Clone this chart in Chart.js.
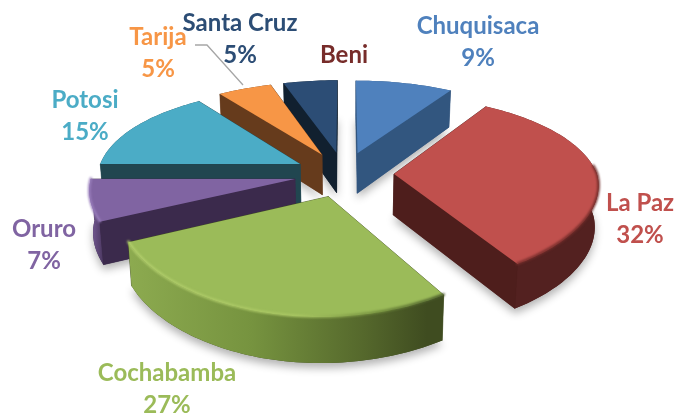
<!DOCTYPE html>
<html>
<head>
<meta charset="utf-8">
<style>html,body{margin:0;padding:0;background:#fff}canvas{display:block}</style>
<script src="https://cdn.jsdelivr.net/npm/chart.js@4/dist/chart.umd.min.js"></script>
</head>
<body>
<canvas id="c" width="676" height="415"></canvas>
<script>
const categories = ['Chuquisaca','La Paz','Cochabamba','Oruro','Potosi','Tarija','Santa Cruz','Beni'];
const values = [9,32,27,7,15,5,5,0];
const topColors = ['#4F81BD','#C0504D','#9BBB59','#8064A2','#4BACC6','#F79646','#2C4D75','#772C2A'];
const wallColors = ['#32567F','#4E1E1C','#3F4C20','#3B2A4C','#214650','#663B1C','#11202F','#3A1514'];
const labelColors = ['#4F81BD','#C0504D','#9BBB59','#8064A2','#4BACC6','#F79646','#2C4D75','#772C2A'];
const labelCentersX = [478,640,167,44,85,158,240,344];
const labelFirstLineY = [26,203,373,229,100,37,23,55];
const sliceSkew = [0,0,.03,0,0,0,0,0];

const PIE = {cx:344, cy:174, R:203, tiltY:.45, perspXNear:.10, perspXFar:.14, perspY:.17, depth:41, depthGrow:.1, shrink:.985, explode:50, lineGap:32};
const paintOrder = [6,5,0,4,3,1,2];

function project(px,d,z,skew){
  const u = d/PIE.R;
  let x = px/(1-(u<0?PIE.perspXFar:PIE.perspXNear)*u) - (skew||0)*Math.max(d,0);
  const w = 1-PIE.perspY*u;
  const y = PIE.tiltY*d/w + z*PIE.depth*(1+PIE.depthGrow*u);
  if(z) x *= PIE.shrink;
  return [PIE.cx+x, PIE.cy+y];
}
function sliceGeom(el){
  const mid=(el.startAngle+el.endAngle)/2, e=PIE.explode;
  const ox=Math.cos(mid)*e, oy=Math.sin(mid)*e;
  const rim=[], n=Math.max(6,Math.ceil((el.endAngle-el.startAngle)*40));
  for(let i=0;i<=n;i++){
    const a=el.startAngle+(el.endAngle-el.startAngle)*i/n;
    rim.push([ox+Math.cos(a)*PIE.R, oy+Math.sin(a)*PIE.R]);
  }
  return {apex:[ox,oy],rim};
}
function path(ctx,pts){
  ctx.beginPath();
  pts.forEach((p,i)=>i?ctx.lineTo(p[0],p[1]):ctx.moveTo(p[0],p[1]));
  ctx.closePath();
}
function poly(g,z,s){
  return [project(g.apex[0],g.apex[1],z,s)].concat(g.rim.map(p=>project(p[0],p[1],z,s)));
}
function quad(ctx,a,b,color,s){
  const pts=[project(a[0],a[1],0,s),project(b[0],b[1],0,s),project(b[0],b[1],1,s),project(a[0],a[1],1,s)];
  path(ctx,pts);ctx.fillStyle=color;ctx.fill();ctx.strokeStyle=color;ctx.lineWidth=.6;ctx.stroke();
}
function rimBand(ctx,g,color,s){
  const top=g.rim.map(p=>project(p[0],p[1],0,s));
  const bot=g.rim.map(p=>project(p[0],p[1],1,s)).reverse();
  path(ctx,top.concat(bot));ctx.fillStyle=color;ctx.fill();
}
function rimPaint(ctx,i){
  if(i===2){
    const g=ctx.createLinearGradient(125,0,443,0);
    g.addColorStop(0,'#8DAB50');g.addColorStop(.4,'#76933F');g.addColorStop(.75,'#55682C');g.addColorStop(.95,'#3F4C20');
    return g;
  }
  if(i===3){
    const g=ctx.createLinearGradient(88,0,108,0);
    g.addColorStop(0,'#7F63A1');g.addColorStop(1,'#3B2A4C');
    return g;
  }
  if(i===1) return '#532120';
  return wallColors[i];
}
const pie3d={
  id:'pie3d',
  beforeDatasetDraw(chart,args){
    const ctx=chart.ctx, arcs=args.meta.data;
    ctx.save();
    paintOrder.forEach(i=>{
      const g=sliceGeom(arcs[i]);
      ctx.save();
      ctx.shadowColor='rgba(0,0,0,.30)';ctx.shadowBlur=9;ctx.shadowOffsetY=5;
      path(ctx,poly(g,1,sliceSkew[i]));ctx.fillStyle=wallColors[i];ctx.fill();
      ctx.restore();
    });
    paintOrder.forEach(i=>{
      const el=arcs[i], g=sliceGeom(el), s=sliceSkew[i];
      const first=g.rim[0], last=g.rim[g.rim.length-1];
      const fw=[[g.apex,first],[g.apex,last]].sort((p,q)=>p[1][1]-q[1][1]);
      const rimFront=first[1]>50&&last[1]>50;
      quad(ctx,fw[0][0],fw[0][1],wallColors[i],s);
      if(rimFront) quad(ctx,fw[1][0],fw[1][1],wallColors[i],s);
      rimBand(ctx,g,rimPaint(ctx,i),s);
      if(!rimFront) quad(ctx,fw[1][0],fw[1][1],wallColors[i],s);
      const face=poly(g,0,s);
      path(ctx,face);ctx.fillStyle=el.options.backgroundColor;ctx.fill();
      if(i===1||i===2||i===3){
        const front=g.rim.filter(p=>p[1]>-20).map(p=>project(p[0],p[1],0,s));
        const st=ctx.createLinearGradient(i===2?125:395,0,i===2?443:597,0);
        if(i===2){st.addColorStop(0,'#B4D06E');st.addColorStop(.55,'#A9C663');st.addColorStop(.8,'#6F8A3B');st.addColorStop(1,'#47572A');}
        else if(i===1){st.addColorStop(0,'#8A3633');st.addColorStop(1,'#6E2A28');}
        else{st.addColorStop(0,'#9A7FBD');st.addColorStop(1,'#9A7FBD');}
        ctx.save();
        ctx.filter='blur(1px)';
        ctx.beginPath();
        front.forEach((p,k)=>k?ctx.lineTo(p[0],p[1]-.5):ctx.moveTo(p[0],p[1]-.5));
        ctx.strokeStyle=st;ctx.lineWidth=2.5;ctx.lineCap='round';ctx.stroke();
        ctx.restore();
      }
    });
    ctx.restore();
    return false;
  },
  afterDraw(chart){
    const ctx=chart.ctx;
    ctx.save();
    ctx.strokeStyle='#A6A6A6';ctx.lineWidth=1.3;
    ctx.beginPath();ctx.moveTo(195,45);ctx.lineTo(207,45);ctx.lineTo(243,85);ctx.stroke();
    ctx.font='bold 24px Lato';ctx.textAlign='center';ctx.textBaseline='middle';
    categories.forEach((name,i)=>{
      ctx.fillStyle=labelColors[i];
      ctx.fillText(name,labelCentersX[i],labelFirstLineY[i]);
      if(values[i]>0) ctx.fillText(values[i]+'%',labelCentersX[i],labelFirstLineY[i]+PIE.lineGap);
    });
    ctx.restore();
  }
};
new Chart(document.getElementById('c'),{
  type:'pie',
  data:{labels:categories,datasets:[{data:values,backgroundColor:topColors,borderWidth:0}]},
  options:{
    responsive:false,animation:false,rotation:0,
    layout:{padding:0},
    plugins:{legend:{display:false},tooltip:{enabled:false},title:{display:false}}
  },
  plugins:[pie3d]
});
</script>
</body>
</html>
